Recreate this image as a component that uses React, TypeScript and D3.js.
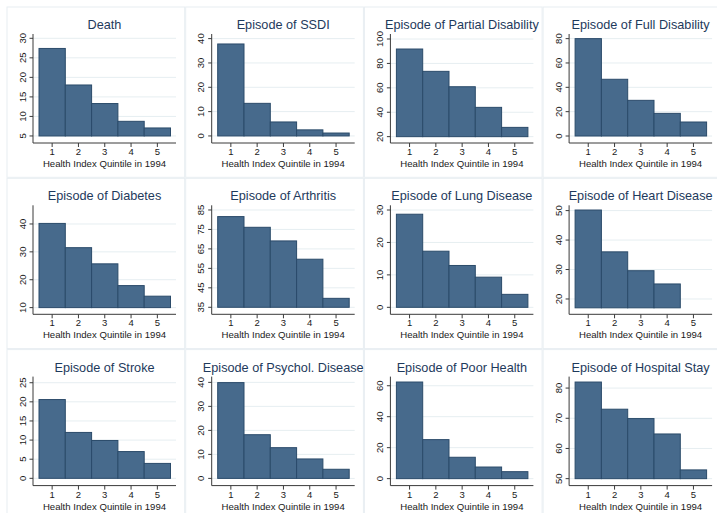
import React from "react";
import * as d3 from "d3";

// Health index quintiles on the x axis of every small multiple
const categories = [1, 2, 3, 4, 5];
const xAxisLabel = "Health Index Quintile in 1994";

const titles = [
  "Death",
  "Episode of SSDI",
  "Episode of Partial Disability",
  "Episode of Full Disability",
  "Episode of Diabetes",
  "Episode of Arthritis",
  "Episode of Lung Disease",
  "Episode of Heart Disease",
  "Episode of Stroke",
  "Episode of Psychol. Disease",
  "Episode of Poor Health",
  "Episode of Hospital Stay",
];

// Bar heights by quintile
const deathValues = [27.4, 18.05, 13.3, 8.75, 7.05];
const ssdiValues = [37.8, 13.4, 5.75, 2.5, 1.2];
const partialValues = [91.8, 73.5, 60.9, 44.0, 27.6];
const fullValues = [80.0, 46.6, 29.3, 18.6, 11.5];
const diabetesValues = [40.2, 31.5, 25.7, 17.9, 14.1];
const arthritisValues = [81.6, 76.1, 69.1, 59.7, 39.6];
const lungValues = [28.7, 17.3, 12.9, 9.3, 4.0];
const heartValues = [50.2, 36.0, 29.6, 25.1, null];
const strokeValues = [20.6, 12.0, 9.9, 7.0, 3.9];
const psycholValues = [39.9, 18.2, 12.8, 8.1, 3.8];
const poorValues = [62.4, 25.2, 13.8, 7.5, 4.5];
const hospitalValues = [82.0, 73.0, 69.9, 64.8, 52.9];

// Y-axis tick labels per panel
const deathTicks = [5, 10, 15, 20, 25, 30];
const ssdiTicks = [0, 10, 20, 30, 40];
const partialTicks = [20, 40, 60, 80, 100];
const fullTicks = [0, 20, 40, 60, 80];
const diabetesTicks = [10, 20, 30, 40];
const arthritisTicks = [35, 45, 55, 65, 75, 85];
const lungTicks = [0, 10, 20, 30];
const heartTicks = [20, 30, 40, 50];
const strokeTicks = [0, 5, 10, 15, 20, 25];
const psycholTicks = [0, 10, 20, 30, 40];
const poorTicks = [0, 20, 40, 60];
const hospitalTicks = [50, 60, 70, 80];

// Y-axis extents (bottom, top) and bar base value per panel
const yDomains = [
  [3.2, 31.1], [-2.9, 41.9], [14.8, 104.1], [-5.75, 83.8],
  [7.6, 46.7], [31.4, 87.4], [-2.15, 31.45], [14.8, 51.8],
  [-1.9, 26.6], [-3.0, 42.4], [-4.5, 65.9], [47.7, 83.8],
];
const barBases = [5, 0, 20, 0, 10, 35, 0, 17, 0, 0, 0, 50];

const seriesList = [
  deathValues, ssdiValues, partialValues, fullValues,
  diabetesValues, arthritisValues, lungValues, heartValues,
  strokeValues, psycholValues, poorValues, hospitalValues,
];
const tickList = [
  deathTicks, ssdiTicks, partialTicks, fullTicks,
  diabetesTicks, arthritisTicks, lungTicks, heartTicks,
  strokeTicks, psycholTicks, poorTicks, hospitalTicks,
];

// Layout
const W = 717;
const H = 513;
const ORIGIN_X = 7;
const ORIGIN_Y = 7;
const COL_STEP = 178.7;
const ROW_STEP = 171.3;
const PLOT_LEFT = 26;
const PLOT_RIGHT = 169;
const PLOT_TOP = 27;
const PLOT_BOTTOM = 136;
const BAR_LEFT = 32;
const BAR_RIGHT = 163.5;

const FONT = "'Liberation Sans', Arial, sans-serif";
const BAR_FILL = "#476a8c";
const BAR_STROKE = "#2b4b6a";
const TITLE_COLOR = "#1e3a5c";
const GRID_COLOR = "#e6eef1";
const FRAME_COLOR = "#e8eef2";
const AXIS_COLOR = "#3a3a3a";
const TEXT_COLOR = "#1a1a1a";

const x = d3.scaleLinear().domain([0.5, 5.5]).range([BAR_LEFT, BAR_RIGHT]);

function Panel({ index }: { index: number }) {
  const col = index % 4;
  const row = Math.floor(index / 4);
  const tx = ORIGIN_X + col * COL_STEP;
  const ty = ORIGIN_Y + row * ROW_STEP;
  const values = seriesList[index];
  const ticks = tickList[index];
  const y = d3.scaleLinear().domain(yDomains[index]).range([PLOT_BOTTOM, PLOT_TOP]);
  const base = barBases[index];
  const bw = x(1.5) - x(0.5);

  return (
    <g transform={`translate(${tx},${ty})`}>
      <rect x={0} y={0} width={COL_STEP - 1} height={ROW_STEP - 1} fill="#ffffff" stroke={FRAME_COLOR} strokeWidth={1} />
      {ticks.map((t) => (
        <line key={`g${t}`} x1={PLOT_LEFT} x2={PLOT_RIGHT} y1={y(t)} y2={y(t)} stroke={GRID_COLOR} strokeWidth={1} />
      ))}
      {categories.map((c, i) =>
        values[i] == null ? null : (
          <rect
            key={`b${c}`}
            x={x(c) - bw / 2}
            y={y(values[i] as number)}
            width={bw}
            height={y(base) - y(values[i] as number)}
            fill={BAR_FILL}
            stroke={BAR_STROKE}
            strokeWidth={1}
          />
        )
      )}
      {/* axes */}
      <line x1={PLOT_LEFT} x2={PLOT_LEFT} y1={PLOT_TOP} y2={PLOT_BOTTOM} stroke={AXIS_COLOR} strokeWidth={1} />
      <line x1={PLOT_LEFT} x2={PLOT_RIGHT} y1={PLOT_BOTTOM} y2={PLOT_BOTTOM} stroke={AXIS_COLOR} strokeWidth={1} />
      {ticks.map((t) => (
        <g key={`yt${t}`}>
          <line x1={PLOT_LEFT - 3.5} x2={PLOT_LEFT} y1={y(t)} y2={y(t)} stroke={AXIS_COLOR} strokeWidth={1} />
          <text
            transform={`translate(${PLOT_LEFT - 7.5},${y(t)}) rotate(-90)`}
            textAnchor="middle"
            fontSize={9.5}
            fontFamily={FONT}
            fill={TEXT_COLOR}
          >
            {t}
          </text>
        </g>
      ))}
      {categories.map((c) => (
        <g key={`xt${c}`}>
          <line x1={x(c)} x2={x(c)} y1={PLOT_BOTTOM} y2={PLOT_BOTTOM + 4} stroke={AXIS_COLOR} strokeWidth={1} />
          <text x={x(c)} y={PLOT_BOTTOM + 12} textAnchor="middle" fontSize={9.5} fontFamily={FONT} fill={TEXT_COLOR}>
            {c}
          </text>
        </g>
      ))}
      <text
        x={(PLOT_LEFT + PLOT_RIGHT) / 2}
        y={PLOT_BOTTOM + 24}
        textAnchor="middle"
        fontSize={9.6}
        fontFamily={FONT}
        fill={TEXT_COLOR}
      >
        {xAxisLabel}
      </text>
      <text
        x={(PLOT_LEFT + PLOT_RIGHT) / 2}
        y={22}
        textAnchor="middle"
        fontSize={12.7}
        fontFamily={FONT}
        fill={TITLE_COLOR}
      >
        {titles[index]}
      </text>
    </g>
  );
}

export default function App() {
  return (
    <svg
      width={W}
      height={H}
      viewBox={`0 0 ${W} ${H}`}
      style={{ position: "fixed", left: 0, top: 0, background: "#ffffff" }}
    >
      <rect x={0} y={0} width={W} height={H} fill="#ffffff" />
      {titles.map((_, i) => (
        <Panel key={i} index={i} />
      ))}
    </svg>
  );
}
